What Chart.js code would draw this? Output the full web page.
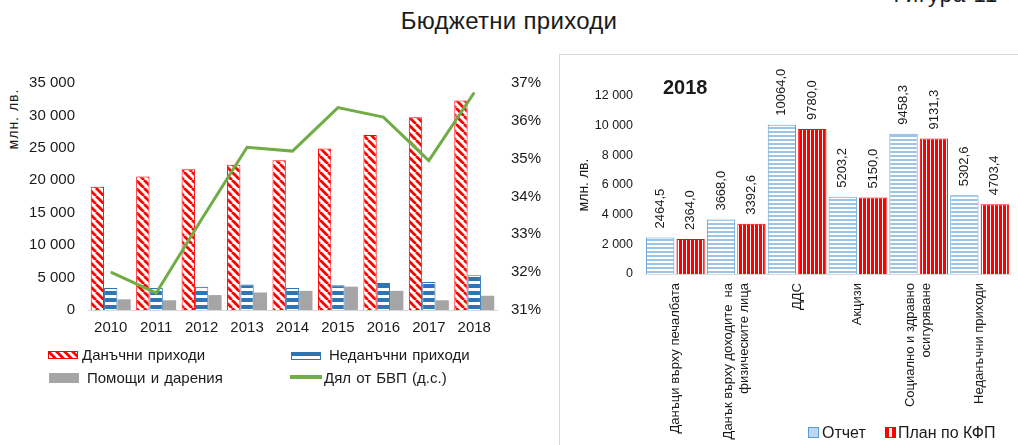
<!DOCTYPE html>
<html>
<head>
<meta charset="utf-8">
<script src="https://cdn.jsdelivr.net/npm/chart.js@4.4.1/dist/chart.umd.min.js"></script>
<style>
  body { margin: 0; width: 1018px; height: 445px; position: relative; overflow: hidden; background: #fff;
         font-family: "Liberation Sans", Arial, sans-serif; color: #1a1a1a; }
  .abs { position: absolute; white-space: nowrap; }
  #title { left: 0; width: 1018px; top: 7px; text-align: center; font-size: 24px; line-height: 27px; letter-spacing: 0.3px; }
  #fig { left: 888px; top: -17px; font-size: 22px; line-height: 24px; letter-spacing: 1px; }
  #leftUnit { left: 13px; top: 119px; font-size: 14px; letter-spacing: 1px; transform: translate(-50%, -50%) rotate(-90deg); }
  #year { left: 663px; top: 76px; font-size: 20px; font-weight: bold; line-height: 22px; }
  #rightBox { left: 559px; top: 54px; width: 470px; height: 400px; border: 1px solid #d9d9d9; }
  .leg { font-size: 15px; line-height: 18px; word-spacing: 1px; }
  .leg2 { font-size: 16px; line-height: 18px; }
  canvas.sw { position: absolute; }
</style>
</head>
<body>
<div class="abs" id="title">Бюджетни приходи</div>
<div class="abs" id="fig">Фигура 11</div>
<div class="abs" id="rightBox"></div>
<div class="abs" id="leftUnit">млн. лв.</div>

<canvas id="leftChart" width="560" height="290" style="position:absolute;left:0;top:60px;"></canvas>
<canvas id="rightChart" width="458" height="390" style="position:absolute;left:560px;top:55px;"></canvas>
<div class="abs" id="year">2018</div>

<canvas class="sw" id="swTax" width="30" height="8" style="left:48px;top:351px;"></canvas>
<div class="abs leg" style="left:82px;top:346px;">Данъчни приходи</div>
<canvas class="sw" id="swNonTax" width="30" height="8" style="left:291px;top:352px;"></canvas>
<div class="abs leg" style="left:329px;top:346px;">Неданъчни приходи</div>
<canvas class="sw" id="swGrants" width="30" height="10" style="left:49px;top:373px;"></canvas>
<div class="abs leg" style="left:87px;top:369px;">Помощи и дарения</div>
<canvas class="sw" id="swShare" width="32" height="4" style="left:290px;top:375px;"></canvas>
<div class="abs leg" style="left:324px;top:369px;">Дял от БВП (д.с.)</div>

<canvas class="sw" id="swReported" width="11" height="11" style="left:808px;top:427px;"></canvas>
<div class="abs leg2" style="left:822px;top:424px;">Отчет</div>
<canvas class="sw" id="swPlanned" width="11" height="11" style="left:885px;top:427px;"></canvas>
<div class="abs leg2" style="left:898px;top:424px;">План по КФП</div>

<script>
// left chart: revenue by year
const years = ["2010", "2011", "2012", "2013", "2014", "2015", "2016", "2017", "2018"];
const taxRevenue = [19000, 20600, 21700, 22400, 23100, 24900, 27000, 29700, 32300];
const nonTaxRevenue = [3400, 3400, 3600, 3950, 3400, 3800, 4150, 4300, 5350];
const grantsRevenue = [1650, 1500, 2300, 2700, 2950, 3600, 2950, 1500, 2200];
const gdpShare = [32.0, 31.45, 33.4, 35.3, 35.2, 36.35, 36.1, 34.95, 36.75];

// right chart: 2018 report vs plan
const revenueTypes = [
  ["Данъци върху печалбата"],
  ["Данък върху доходите  на", "физическите лица"],
  ["ДДС"],
  ["Акцизи"],
  ["Социално и здравно", "осигуряване"],
  ["Неданъчни приходи"],
];
const reported2018 = [2464.5, 3668.0, 10064.0, 5203.2, 9458.3, 5302.6];
const planned2018 = [2364.0, 3392.6, 9780.0, 5150.0, 9131.3, 4703.4];

const FONT = '"Liberation Sans", Arial, sans-serif';
const TEXT = "#1a1a1a";
Chart.defaults.font.family = FONT;
Chart.defaults.color = TEXT;

const thousands = (v) => String(v).replace(/\B(?=(\d{3})+(?!\d))/g, " ");

const makePattern = (w, h, draw) => {
  const c = document.createElement("canvas");
  c.width = w;
  c.height = h;
  const g = c.getContext("2d");
  draw(g, w, h);
  return g.createPattern(c, "repeat");
};

const redDiagonal = () => makePattern(8, 8, (g) => {
  g.fillStyle = "#fff";
  g.fillRect(0, 0, 8, 8);
  g.strokeStyle = "#ff0000";
  g.lineWidth = 2.8;
  g.beginPath();
  [-8, 0, 8].forEach((o) => { g.moveTo(o, 0); g.lineTo(o + 8, 8); });
  g.stroke();
});
const blueHorizontal = () => makePattern(4, 7, (g) => {
  g.fillStyle = "#fff";
  g.fillRect(0, 0, 4, 7);
  g.fillStyle = "#2e75b6";
  g.fillRect(0, 0, 4, 4);
});
const lightBlueHorizontal = () => makePattern(4, 4, (g) => {
  g.fillStyle = "#fff";
  g.fillRect(0, 0, 4, 4);
  g.fillStyle = "#9dc3e6";
  g.fillRect(0, 0, 4, 2);
});
const redVertical = () => makePattern(4, 4, (g) => {
  g.fillStyle = "#ff0000";
  g.fillRect(0, 0, 4, 4);
  g.fillStyle = "#fff";
  g.fillRect(2, 0, 1, 4);
});

const leftChart = new Chart(document.getElementById("leftChart"), {
  type: "bar",
  data: {
    labels: years,
    datasets: [
      { label: "Дял от БВП (д.с.)", type: "line", data: gdpShare, yAxisID: "y1", order: 0,
        borderColor: "#70ad47", borderWidth: 3, pointRadius: 0, tension: 0 },
      { label: "Данъчни приходи", data: taxRevenue, yAxisID: "y", order: 1,
        backgroundColor: redDiagonal(), borderColor: "#ff0000", borderWidth: 1 },
      { label: "Неданъчни приходи", data: nonTaxRevenue, yAxisID: "y", order: 1,
        backgroundColor: blueHorizontal(), borderColor: "#2e75b6", borderWidth: 1 },
      { label: "Помощи и дарения", data: grantsRevenue, yAxisID: "y", order: 1,
        backgroundColor: "#a5a5a5", borderWidth: 0 },
    ],
  },
  options: {
    responsive: false,
    animation: false,
    layout: { padding: { top: 23, left: 0, right: 0, bottom: 0 } },
    datasets: { bar: { categoryPercentage: 0.88, barPercentage: 1.0 } },
    plugins: { legend: { display: false }, tooltip: { enabled: false } },
    scales: {
      x: {
        grid: { display: false, drawTicks: false },
        border: { display: true, color: "#d9d9d9" },
        ticks: { font: { size: 15 }, padding: 9, color: TEXT },
        afterFit: (s) => { s.height = 40; },
      },
      y: {
        position: "left", min: 0, max: 35000,
        grid: { display: false, drawTicks: false },
        border: { display: false },
        ticks: { stepSize: 5000, padding: 13, font: { size: 15 }, color: TEXT, callback: (v) => thousands(v) },
        afterFit: (s) => { s.width = 88; },
      },
      y1: {
        position: "right", min: 31, max: 37,
        grid: { display: false, drawTicks: false },
        border: { display: false },
        ticks: { stepSize: 1, padding: 14, font: { size: 15 }, color: TEXT, callback: (v) => v + "%" },
        afterFit: (s) => { s.width = 63; },
      },
    },
  },
});

const rightLabels = {
  id: "rightLabels",
  afterDatasetsDraw(chart) {
    const { ctx } = chart;
    ctx.save();
    ctx.fillStyle = TEXT;
    ctx.font = "13px " + FONT;
    chart.data.datasets.forEach((ds, i) => {
      chart.getDatasetMeta(i).data.forEach((bar, j) => {
        ctx.save();
        ctx.translate(bar.x, bar.y - 9);
        ctx.rotate(-Math.PI / 2);
        ctx.textAlign = "left";
        ctx.textBaseline = "middle";
        ctx.fillText(ds.data[j].toFixed(1).replace(".", ","), 0, 0);
        ctx.restore();
      });
    });
    const xs = chart.scales.x;
    const lh = 16;
    revenueTypes.forEach((lines, j) => {
      const px = xs.getPixelForValue(j);
      lines.forEach((line, k) => {
        ctx.save();
        ctx.translate(px + (k - (lines.length - 1) / 2) * lh, xs.top + 9);
        ctx.rotate(-Math.PI / 2);
        ctx.textAlign = "right";
        ctx.textBaseline = "middle";
        ctx.fillText(line, 0, 0);
        ctx.restore();
      });
    });
    ctx.restore();
  },
};

const rightChart = new Chart(document.getElementById("rightChart"), {
  type: "bar",
  data: {
    labels: revenueTypes.map((l) => l.join(" ")),
    datasets: [
      { label: "Отчет", data: reported2018, backgroundColor: lightBlueHorizontal(), borderColor: "#5b9bd5", borderWidth: 1 },
      { label: "План по КФП", data: planned2018, backgroundColor: redVertical(), borderColor: "#ff0000", borderWidth: 1 },
    ],
  },
  plugins: [rightLabels],
  options: {
    responsive: false,
    animation: false,
    layout: { padding: { top: 41, left: 0, right: 8, bottom: 0 } },
    datasets: { bar: { categoryPercentage: 1.0, barPercentage: 0.93 } },
    plugins: { legend: { display: false }, tooltip: { enabled: false } },
    scales: {
      x: {
        grid: { display: false, drawTicks: false },
        border: { display: true, color: "#d9d9d9" },
        ticks: { display: false },
        afterFit: (s) => { s.height = 171; },
      },
      y: {
        min: 0, max: 12000,
        grid: { display: false, drawTicks: false },
        border: { display: false },
        ticks: { stepSize: 2000, padding: 12, font: { size: 12.5 }, color: TEXT, callback: (v) => thousands(v) },
        title: { display: true, text: "млн. лв.", font: { size: 14 }, color: TEXT, padding: { top: 16, bottom: 0 } },
        afterFit: (s) => { s.width = 85; },
      },
    },
  },
});

// legend swatches
const swatch = (id, fill, stroke) => {
  const c = document.getElementById(id);
  const g = c.getContext("2d");
  g.fillStyle = fill;
  g.fillRect(0, 0, c.width, c.height);
  if (stroke) {
    g.strokeStyle = stroke;
    g.lineWidth = 1;
    g.strokeRect(0.5, 0.5, c.width - 1, c.height - 1);
  }
};
swatch("swTax", redDiagonal(), "#ff0000");
swatch("swNonTax", blueHorizontal(), "#2e75b6");
swatch("swGrants", "#a5a5a5");
swatch("swShare", "#70ad47");
swatch("swReported", "#bdd7ee", "#5b9bd5");
(() => {
  const g = document.getElementById("swPlanned").getContext("2d");
  g.fillStyle = "#ff0000";
  g.fillRect(0, 0, 11, 11);
  g.fillStyle = "#fff";
  g.fillRect(4, 1, 3, 9);
})();
</script>
</body>
</html>
